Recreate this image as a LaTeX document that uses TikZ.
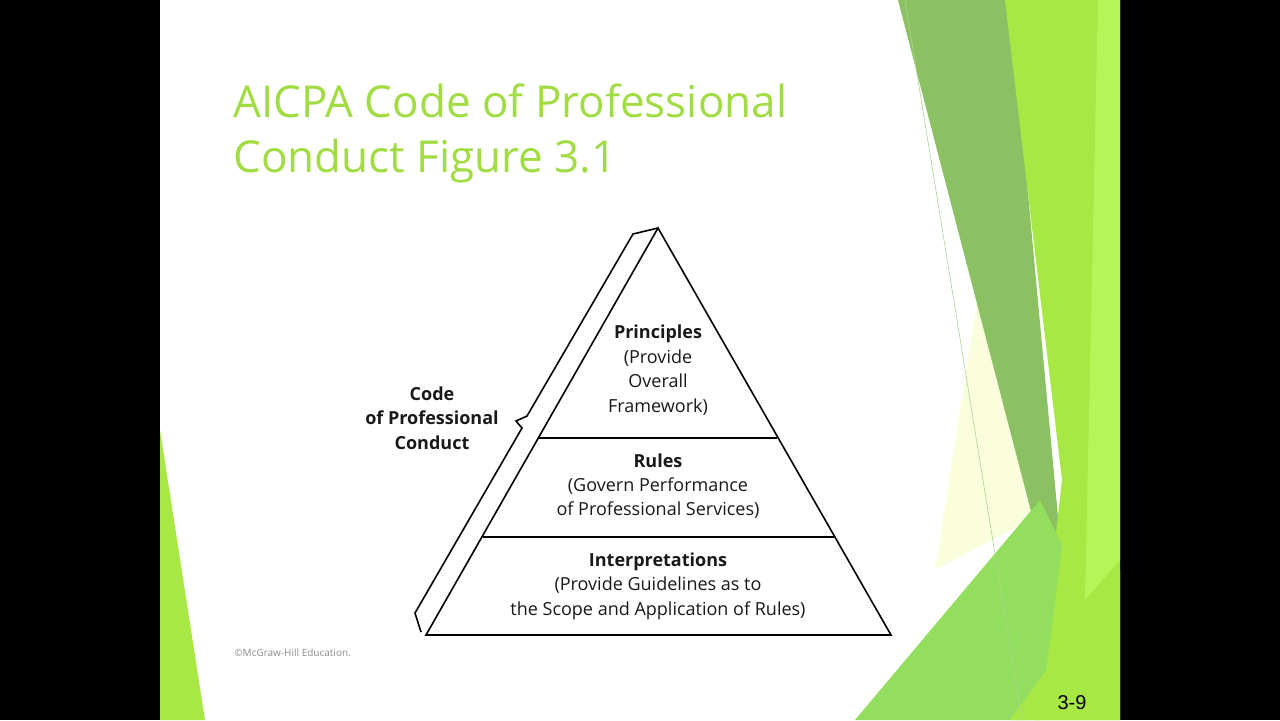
\documentclass[tikz,border=0pt]{standalone}
\usepackage{fontspec}
\setmainfont{Open Sans}
\newfontfamily\arialf{Liberation Sans}
\begin{document}
\begin{tikzpicture}[x=0.5pt,y=-0.5pt,
  lbl/.style={align=center,font=\fontsize{9}{12.2}\selectfont,text=black!90},
  edge/.style={line width=0.8pt,black}]
\useasboundingbox (0,0) rectangle (1280,720);
\fill[black] (0,0) rectangle (1280,720);
\fill[white] (160,0) rectangle (1120,720);
% left sliver
\fill[green!70!yellow!90!black, fill=black!0] (160,430) -- (160,430);
\definecolor{gA}{HTML}{A8E845}
\definecolor{gB}{HTML}{8BC063}
\definecolor{gC}{HTML}{93DE5E}
\definecolor{gD}{HTML}{B6F558}
\definecolor{gY}{HTML}{FBFEDC}
\fill[gA] (160,430) -- (205,720) -- (160,720) -- cycle;
% right decorations
\fill[gY] (985,250) -- (1045,500) -- (1030,520) -- (935,570) -- cycle;
\fill[gB] (898,0) -- (1010,0) -- (1062,560) -- (1045,565) -- cycle;
\fill[gA] (1005,0) -- (1120,0) -- (1120,720) -- (1035,720) -- (1062,480) -- cycle;
\fill[gD] (1098,0) -- (1120,0) -- (1120,560) -- (1085,600) -- cycle;
\fill[gC] (855,720) -- (1040,500) -- (1062,545) -- (1040,720) -- cycle;
\fill[gA] (1010,720) -- (1120,570) -- (1120,720) -- cycle;
\draw[gB!70!white, line width=0.3pt] (905,0) -- (1022,720);
% title
\node[anchor=base west, inner sep=0, text=gA!95!black, font=\fontsize{22}{28}\selectfont] (t1) at (233,117) {AICPA Code of Professional};
\node[anchor=base west, inner sep=0, text=gA!95!black, font=\fontsize{22}{28}\selectfont] (t2) at (233,172) {Conduct Figure 3.1};
% pyramid
\coordinate (apex) at (658,228);
\coordinate (bl) at (426,635);
\coordinate (br) at (891,635);
\draw[edge, line join=miter] (apex) -- (br) -- (bl) -- cycle;
\draw[edge] (539,438) -- (777,438);
\draw[edge] (483,537) -- (834,537);
\draw[edge, line join=miter] (apex) -- (633,234) -- (527,416) -- (516,421) -- (522,428) -- (415,613) -- (421,632);
\node[lbl] (p) at (658,370) {\textbf{Principles}\\(Provide\\Overall\\Framework)};
\node[lbl] (r) at (658,486) {\textbf{Rules}\\(Govern Performance\\of Professional Services)};
\node[lbl] (i) at (658,586) {\textbf{Interpretations}\\(Provide Guidelines as to\\the Scope and Application of Rules)};
\node[lbl] (c) at (432,418) {\textbf{Code}\\\textbf{of Professional}\\\textbf{Conduct}};
\node[anchor=base west, inner sep=0, text=black!45, font=\fontsize{5}{6}\selectfont] (cp) at (234,656) {©McGraw-Hill Education.};
\node[anchor=center, inner sep=0, font=\arialf\fontsize{10}{12}\selectfont] (pg) at (1072,703) {3-9};
\end{tikzpicture}
\end{document}
